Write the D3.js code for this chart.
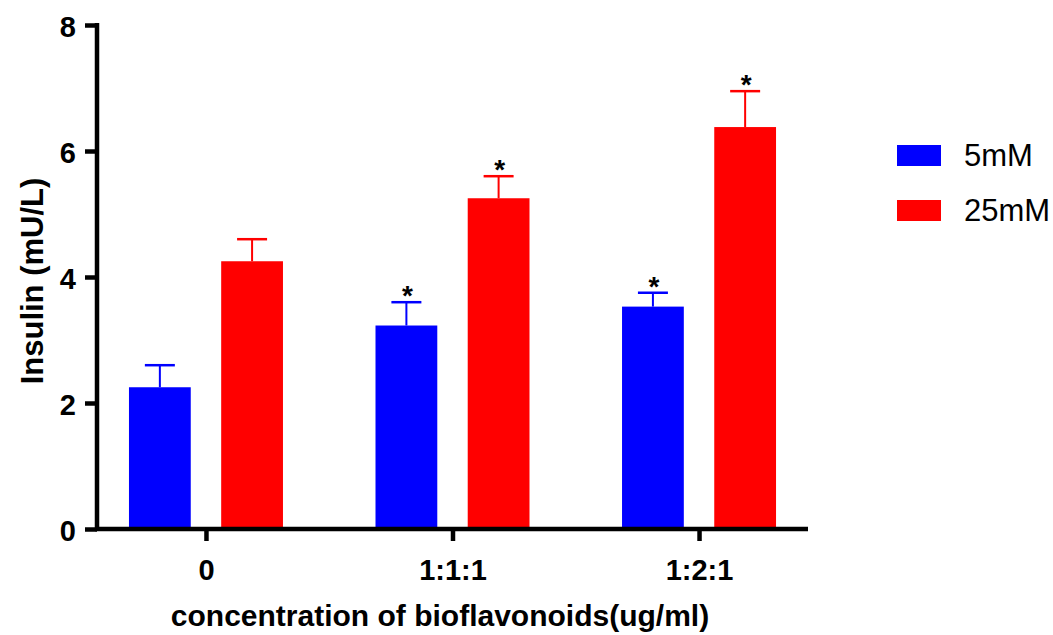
<!DOCTYPE html>
<html><head><meta charset="utf-8">
<script src="https://cdn.jsdelivr.net/npm/d3@7"></script>
<style>body{margin:0;background:#fff}svg{display:block}text{font-family:"Liberation Sans",Arial,sans-serif}</style>
</head><body>
<svg id="c" width="1053" height="635"></svg>
<script>
const categories = ["0", "1:1:1", "1:2:1"];
const seriesNames = ["5mM", "25mM"];
const seriesColors = ["#0000ff", "#ff0000"];
const mean5 = [2.25, 3.23, 3.53];
const mean25 = [4.25, 5.25, 6.38];
const err5 = [0.35, 0.37, 0.22];
const err25 = [0.35, 0.35, 0.57];
const sig5 = [false, true, true];
const sig25 = [false, true, true];
const yTicks = [0, 2, 4, 6, 8];

const svg = d3.select("#c");
const x0 = 97, x1 = 808, yTop = 25, yBot = 529;
const y = d3.scaleLinear().domain([0, 8]).range([yBot, yTop]);
const xg = d3.scalePoint().domain(categories).range([x0, x1]).padding(0.442);
const xs = d3.scaleBand().domain(seriesNames).range([-77, 77]).paddingInner(0.33).paddingOuter(0);

const series = [
  {name: seriesNames[0], color: seriesColors[0], mean: mean5, err: err5, sig: sig5},
  {name: seriesNames[1], color: seriesColors[1], mean: mean25, err: err25, sig: sig25}
];

const g = svg.append("g");
series.forEach(s => {
  categories.forEach((c, i) => {
    const cx = xg(c) + xs(s.name) + xs.bandwidth() / 2;
    const top = y(s.mean[i]);
    const capY = y(s.mean[i] + s.err[i]);
    g.append("line").attr("x1", cx).attr("x2", cx).attr("y1", top).attr("y2", capY)
      .attr("stroke", s.color).attr("stroke-width", 2);
    g.append("line").attr("x1", cx - 15).attr("x2", cx + 15).attr("y1", capY).attr("y2", capY)
      .attr("stroke", s.color).attr("stroke-width", 2.5);
    g.append("rect").attr("x", xg(c) + xs(s.name)).attr("y", top)
      .attr("width", xs.bandwidth()).attr("height", yBot - top).attr("fill", s.color);
    if (s.sig[i]) {
      g.append("text").attr("x", cx + 1).attr("y", capY + 3).attr("text-anchor", "middle")
        .attr("font-size", 28).attr("font-weight", "bold").text("*");
    }
  });
});

// Y axis
const yAxis = d3.axisLeft(y).tickValues(yTicks).tickSize(12).tickPadding(9).tickFormat(d3.format("d"));
const ya = svg.append("g").attr("transform", `translate(${x0},0)`).call(yAxis);
ya.select(".domain").attr("stroke", "#000").attr("stroke-width", 4.5).attr("d", `M0,${yTop-2}V${yBot+2}`);
ya.selectAll(".tick line").attr("stroke-width", 4.5);
ya.selectAll(".tick text").attr("font-size", 29).attr("font-weight", "bold").attr("fill", "#000")
  .attr("dy", "0.38em").attr("font-family", "Liberation Sans, Arial, sans-serif");

// X axis
const xAxis = d3.axisBottom(xg).tickSize(12);
const xa = svg.append("g").attr("transform", `translate(0,${yBot})`).call(xAxis);
xa.select(".domain").attr("stroke", "#000").attr("stroke-width", 4.5).attr("d", `M${x0-2},0H${x1}`);
xa.selectAll(".tick line").attr("stroke-width", 4.5);
xa.selectAll(".tick text").attr("font-size", 29).attr("font-weight", "bold").attr("fill", "#000")
  .attr("y", 51).attr("dy", null).attr("font-family", "Liberation Sans, Arial, sans-serif");

// Titles
svg.append("text").attr("transform", "translate(43,281) rotate(-90)").attr("text-anchor", "middle")
  .attr("font-size", 31).attr("font-weight", "bold").text("Insulin (mU/L)");
svg.append("text").attr("x", 440).attr("y", 626).attr("text-anchor", "middle")
  .attr("font-size", 30).attr("font-weight", "bold").text("concentration of bioflavonoids(ug/ml)");

// Legend
series.forEach((s, i) => {
  const ly = 145 + i * 55;
  svg.append("rect").attr("x", 897).attr("y", ly).attr("width", 44).attr("height", 21).attr("fill", s.color);
  svg.append("text").attr("x", 964).attr("y", ly + 21).attr("font-size", 31).text(s.name);
});
</script>
</body></html>
